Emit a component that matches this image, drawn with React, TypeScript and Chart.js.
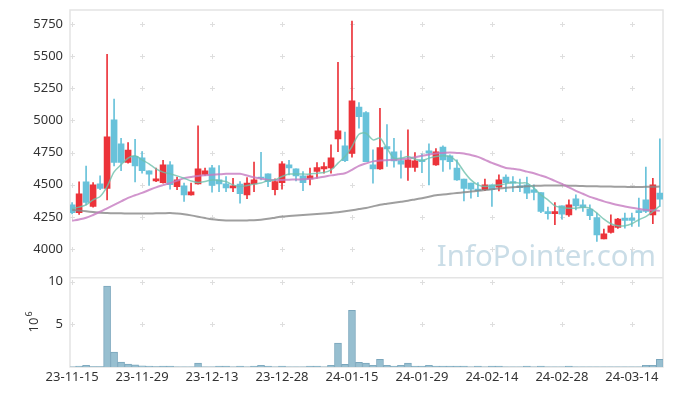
import React, { useEffect, useRef } from 'react';
import { Chart, registerables } from 'chart.js';

Chart.register(...registerables);

const xTickLabels = ['23-11-15', '23-11-29', '23-12-13', '23-12-28', '24-01-15', '24-01-29', '24-02-14', '24-02-28', '24-03-14'];
const priceTicks = [4000, 4250, 4500, 4750, 5000, 5250, 5500, 5750];
const volumeTicks = [5, 10];

const openP = [4344, 4284, 4523, 4331, 4507, 4471, 5004, 4818, 4673, 4722, 4709, 4608, 4530, 4517, 4655, 4486, 4492, 4422, 4507, 4580,
  4631, 4538, 4507, 4476, 4505, 4422, 4507, 4560, 4585, 4461, 4517, 4655, 4624, 4569, 4546, 4603, 4624, 4631, 4857, 4802,
  4743, 5105, 5061, 4655, 4624, 4797, 4756, 4688, 4634, 4634, 4693, 4763, 4655, 4794, 4725, 4629, 4544, 4513, 4466, 4461,
  4499, 4482, 4559, 4525, 4492, 4499, 4461, 4440, 4292, 4276, 4336, 4266, 4391, 4344, 4311, 4245, 4078, 4129, 4168, 4241,
  4241, 4300, 4383, 4266, 4435];
const highP = [4362, 4523, 4645, 4517, 4569, 5515, 5167, 4862, 4828, 4854, 4758, 4608, 4629, 4691, 4680, 4559, 4513, 4513, 4958, 4629,
  4652, 4649, 4564, 4551, 4525, 4556, 4676, 4753, 4585, 4546, 4680, 4691, 4624, 4603, 4629, 4673, 4673, 4810, 5452, 4909,
  5773, 5139, 5070, 4771, 5095, 4968, 4862, 4763, 4927, 4750, 4740, 4818, 4781, 4802, 4732, 4693, 4544, 4513, 4517, 4544,
  4499, 4577, 4577, 4564, 4544, 4559, 4499, 4440, 4326, 4362, 4336, 4383, 4422, 4383, 4344, 4280, 4155, 4266, 4240, 4280,
  4280, 4396, 4637, 4551, 4857];
const lowP = [4274, 4269, 4344, 4326, 4461, 4383, 4647, 4610, 4668, 4523, 4590, 4494, 4525, 4513, 4466, 4461, 4370, 4420, 4505, 4572,
  4443, 4447, 4447, 4447, 4357, 4391, 4447, 4538, 4486, 4422, 4466, 4577, 4530, 4455, 4499, 4551, 4590, 4590, 4758, 4680,
  4715, 4940, 4680, 4513, 4620, 4642, 4637, 4551, 4533, 4603, 4595, 4499, 4650, 4603, 4621, 4533, 4375, 4396, 4408, 4455,
  4331, 4453, 4447, 4447, 4447, 4391, 4383, 4284, 4233, 4189, 4233, 4253, 4305, 4292, 4228, 4059, 4078, 4124, 4160, 4163,
  4176, 4176, 4284, 4197, 4331];
const closeP = [4284, 4430, 4362, 4499, 4471, 4872, 4673, 4673, 4769, 4647, 4610, 4582, 4546, 4655, 4500, 4538, 4422, 4445, 4624, 4608,
  4494, 4507, 4476, 4492, 4430, 4513, 4538, 4553, 4525, 4525, 4663, 4631, 4569, 4517, 4569, 4634, 4642, 4709, 4919, 4688,
  5152, 5030, 4680, 4624, 4789, 4779, 4686, 4660, 4693, 4686, 4680, 4746, 4756, 4694, 4680, 4538, 4471, 4466, 4455, 4499,
  4461, 4538, 4517, 4513, 4478, 4435, 4440, 4292, 4276, 4292, 4272, 4344, 4336, 4323, 4259, 4111, 4119, 4181, 4233, 4222,
  4222, 4284, 4292, 4499, 4388];

const ma5 = [4313, 4326, 4344, 4383, 4409, 4486, 4600, 4655, 4707, 4725, 4694, 4663, 4624, 4598, 4585, 4569, 4551, 4530, 4517, 4525,
  4538, 4533, 4525, 4499, 4486, 4494, 4505, 4513, 4533, 4538, 4564, 4583, 4583, 4583, 4583, 4590, 4595, 4616, 4668, 4719,
  4797, 4893, 4901, 4849, 4862, 4784, 4707, 4707, 4719, 4701, 4688, 4707, 4719, 4725, 4719, 4680, 4603, 4538, 4499, 4486,
  4492, 4499, 4507, 4517, 4513, 4513, 4474, 4422, 4383, 4336, 4323, 4318, 4318, 4326, 4318, 4280, 4233, 4197, 4181, 4181,
  4197, 4228, 4253, 4292, 4336];
const ma20 = [4220, 4230, 4243, 4265, 4290, 4317, 4344, 4371, 4398, 4418, 4437, 4459, 4480, 4497, 4513, 4532, 4550, 4560, 4569, 4574,
  4577, 4581, 4585, 4585, 4585, 4572, 4558, 4548, 4538, 4538, 4538, 4540, 4541, 4543, 4546, 4554, 4562, 4573, 4581, 4589,
  4616, 4647, 4666, 4682, 4688, 4691, 4694, 4699, 4704, 4714, 4725, 4735, 4744, 4747, 4750, 4747, 4744, 4731, 4717, 4694,
  4670, 4650, 4631, 4624, 4616, 4602, 4589, 4572, 4554, 4530, 4507, 4480, 4453, 4430, 4406, 4389, 4371, 4356, 4342, 4331,
  4321, 4313, 4305, 4301, 4297];
const ma60 = [4305, 4300, 4294, 4288, 4282, 4280, 4279, 4278, 4277, 4277, 4277, 4277, 4278, 4279, 4280, 4276, 4270, 4262, 4252, 4241,
  4231, 4226, 4223, 4222, 4222, 4223, 4224, 4228, 4235, 4244, 4253, 4257, 4261, 4265, 4268, 4272, 4276, 4281, 4287, 4294,
  4302, 4311, 4320, 4332, 4344, 4352, 4360, 4368, 4376, 4386, 4396, 4407, 4418, 4424, 4430, 4436, 4441, 4447, 4453, 4459,
  4465, 4471, 4476, 4480, 4484, 4488, 4492, 4493, 4494, 4494, 4494, 4493, 4492, 4490, 4489, 4488, 4487, 4486, 4485, 4484,
  4482, 4483, 4484, 4485, 4486];

// volume in millions (10^6)
const volume = [0.03, 0.12, 0.2, 0.04, 0.04, 9.5, 1.75, 0.58, 0.35, 0.25, 0.15, 0.12, 0.05, 0.1, 0.1, 0.03, 0.03, 0.03, 0.45, 0.03,
  0.03, 0.1, 0.1, 0.03, 0.1, 0.03, 0.1, 0.2, 0.1, 0.03, 0.1, 0.03, 0.03, 0.03, 0.1, 0.1, 0.03, 0.2, 2.8, 0.3,
  6.65, 0.55, 0.45, 0.2, 0.9, 0.2, 0.1, 0.2, 0.45, 0.1, 0.1, 0.2, 0.1, 0.1, 0.1, 0.1, 0.1, 0.03, 0.1, 0.03,
  0.1, 0.1, 0.03, 0.03, 0.03, 0.1, 0.03, 0.1, 0.03, 0.03, 0.03, 0.1, 0.03, 0.03, 0.03, 0.03, 0.03, 0.03, 0.03, 0.03,
  0.03, 0.03, 0.2, 0.2, 0.9];

const watermark = 'InfoPointer.com';
const volumeUnitBase = '10';
const volumeUnitExp = '6';

const FONT = '"Noto Sans", sans-serif';
const UP = 'rgb(236, 51, 58)';
const DOWN = 'rgb(104, 194, 218)';

const decorPlugin = {
  id: 'decor',
  beforeDatasetsDraw(chart: any) {
    const { ctx, chartArea: a, scales } = chart;
    const x = scales.x, yP = scales.yP, yV = scales.yV;
    ctx.save();
    // watermark
    ctx.font = '100px ' + FONT;
    const w100 = ctx.measureText(watermark).width;
    const size = (100 * 219) / w100;
    ctx.font = size.toFixed(1) + 'px ' + FONT;
    ctx.fillStyle = 'rgb(202, 221, 231)';
    ctx.textAlign = 'right';
    ctx.textBaseline = 'alphabetic';
    ctx.fillText(watermark, a.right - 7, yP.bottom - 12);

    // grid crosses
    ctx.strokeStyle = '#dedede';
    ctx.lineWidth = 1;
    const xs = x.ticks.map((t: any) => Math.round(x.getPixelForValue(t.value)) + 0.5);
    const ys = [
      ...priceTicks.map((v) => Math.round(yP.getPixelForValue(v)) + 0.5),
      ...volumeTicks.map((v) => Math.round(yV.getPixelForValue(v)) + 0.5),
    ];
    ctx.beginPath();
    for (const px of xs) {
      for (const py of ys) {
        ctx.moveTo(px - 2.5, py);
        ctx.lineTo(px + 2.5, py);
        ctx.moveTo(px, py - 2.5);
        ctx.lineTo(px, py + 2.5);
      }
    }
    ctx.stroke();

    // borders
    ctx.strokeStyle = '#e4e4e4';
    ctx.lineWidth = 1.5;
    ctx.strokeRect(a.left, a.top, a.right - a.left, a.bottom - a.top);
    ctx.beginPath();
    ctx.moveTo(a.left, yP.bottom);
    ctx.lineTo(a.right, yP.bottom);
    ctx.stroke();
    ctx.restore();
  },
  afterDraw(chart: any) {
    const { ctx, scales } = chart;
    const yV = scales.yV;
    const cy = (yV.top + yV.bottom) / 2;
    ctx.save();
    ctx.translate(38, cy + 10);
    ctx.rotate(-Math.PI / 2);
    ctx.fillStyle = '#333';
    ctx.textAlign = 'left';
    ctx.textBaseline = 'alphabetic';
    ctx.font = '13px ' + FONT;
    ctx.fillText(volumeUnitBase, 0, 0);
    const w = ctx.measureText(volumeUnitBase).width;
    ctx.font = '9px ' + FONT;
    ctx.fillText(volumeUnitExp, w + 1, -6);
    ctx.restore();
  },
};

const noPad = (s: any) => {
  s.paddingTop = 0;
  s.paddingBottom = 0;
  s.paddingLeft = 0;
  s.paddingRight = 0;
};

export default function App() {
  const ref = useRef<HTMLCanvasElement | null>(null);

  useEffect(() => {
    const canvas = ref.current;
    if (!canvas) return;
    const colors = openP.map((o, i) => (closeP[i] >= o ? UP : DOWN));
    const tickFont = { family: FONT, size: 13 };

    const chart = new Chart(canvas, {
      type: 'bar',
      data: {
        datasets: [
          {
            type: 'line',
            label: 'MA5',
            data: ma5.map((v, i) => ({ x: i, y: v })),
            yAxisID: 'yP',
            borderColor: 'rgba(110, 192, 172, 0.8)',
            borderWidth: 1.5,
            pointRadius: 0,
            tension: 0.3,
            fill: false,
          } as any,
          {
            type: 'line',
            label: 'MA20',
            data: ma20.map((v, i) => ({ x: i, y: v })),
            yAxisID: 'yP',
            borderColor: 'rgba(198, 122, 192, 0.8)',
            borderWidth: 2,
            pointRadius: 0,
            tension: 0.3,
            fill: false,
          } as any,
          {
            type: 'line',
            label: 'MA60',
            data: ma60.map((v, i) => ({ x: i, y: v })),
            yAxisID: 'yP',
            borderColor: 'rgba(135, 135, 135, 0.8)',
            borderWidth: 2,
            pointRadius: 0,
            tension: 0.3,
            fill: false,
          } as any,
          {
            type: 'bar',
            label: 'body',
            data: openP.map((o, i) => ({ x: i, y: [o, closeP[i]] })),
            yAxisID: 'yP',
            backgroundColor: colors,
            barThickness: 6,
            grouped: false,
          } as any,
          {
            type: 'bar',
            label: 'wick',
            data: lowP.map((l, i) => ({ x: i, y: [l, highP[i]] })),
            yAxisID: 'yP',
            backgroundColor: colors,
            barThickness: 1,
            grouped: false,
          } as any,
          {
            type: 'bar',
            label: 'volume',
            data: volume.map((v, i) => ({ x: i, y: v })),
            yAxisID: 'yV',
            backgroundColor: 'rgb(151, 191, 208)',
            borderColor: 'rgb(122, 166, 188)',
            borderWidth: 1,
            barThickness: 7,
            grouped: false,
          } as any,
        ],
      },
      options: {
        animation: false,
        responsive: false,
        events: [],
        layout: { padding: { top: 10, right: 10, left: 0, bottom: 0 } },
        plugins: { legend: { display: false }, tooltip: { enabled: false } },
        scales: {
          x: {
            type: 'linear',
            min: -0.3,
            max: 84.45,
            offset: false,
            grid: { display: false, drawTicks: false, offset: false },
            border: { display: false },
            afterBuildTicks: (s: any) => {
              s.ticks = xTickLabels.map((_, k) => ({ value: k * 10 }));
            },
            afterFit: (s: any) => {
              s.height = 29;
              noPad(s);
            },
            ticks: {
              autoSkip: false,
              maxRotation: 0,
              minRotation: 0,
              padding: 2,
              color: '#333',
              font: tickFont,
              callback: (_v: any, idx: number) => xTickLabels[idx] ?? '',
            },
          },
          yV: {
            type: 'linear',
            position: 'left',
            stack: 'panels',
            stackWeight: 1,
            min: 0,
            max: 10.47,
            grid: { display: false, drawTicks: false },
            border: { display: false },
            afterBuildTicks: (s: any) => {
              s.ticks = volumeTicks.map((v) => ({ value: v }));
            },
            afterFit: (s: any) => {
              s.width = 70;
              noPad(s);
            },
            ticks: { padding: 7, color: '#333', font: tickFont, callback: (v: any) => String(v) },
          },
          yP: {
            type: 'linear',
            position: 'left',
            stack: 'panels',
            stackWeight: 3,
            min: 3777,
            max: 5859,
            grid: { display: false, drawTicks: false },
            border: { display: false },
            afterBuildTicks: (s: any) => {
              s.ticks = priceTicks.map((v) => ({ value: v }));
            },
            afterFit: (s: any) => {
              s.width = 70;
              noPad(s);
            },
            ticks: { padding: 7, color: '#333', font: tickFont, callback: (v: any) => String(v) },
          },
        } as any,
      },
      plugins: [decorPlugin],
    } as any);

    return () => chart.destroy();
  }, []);

  return (
    <div style={{ position: 'fixed', left: 0, top: 0, width: 673, height: 396, background: '#fff' }}>
      <canvas ref={ref} width={673} height={396} style={{ display: 'block', width: 673, height: 396 }} />
    </div>
  );
}
